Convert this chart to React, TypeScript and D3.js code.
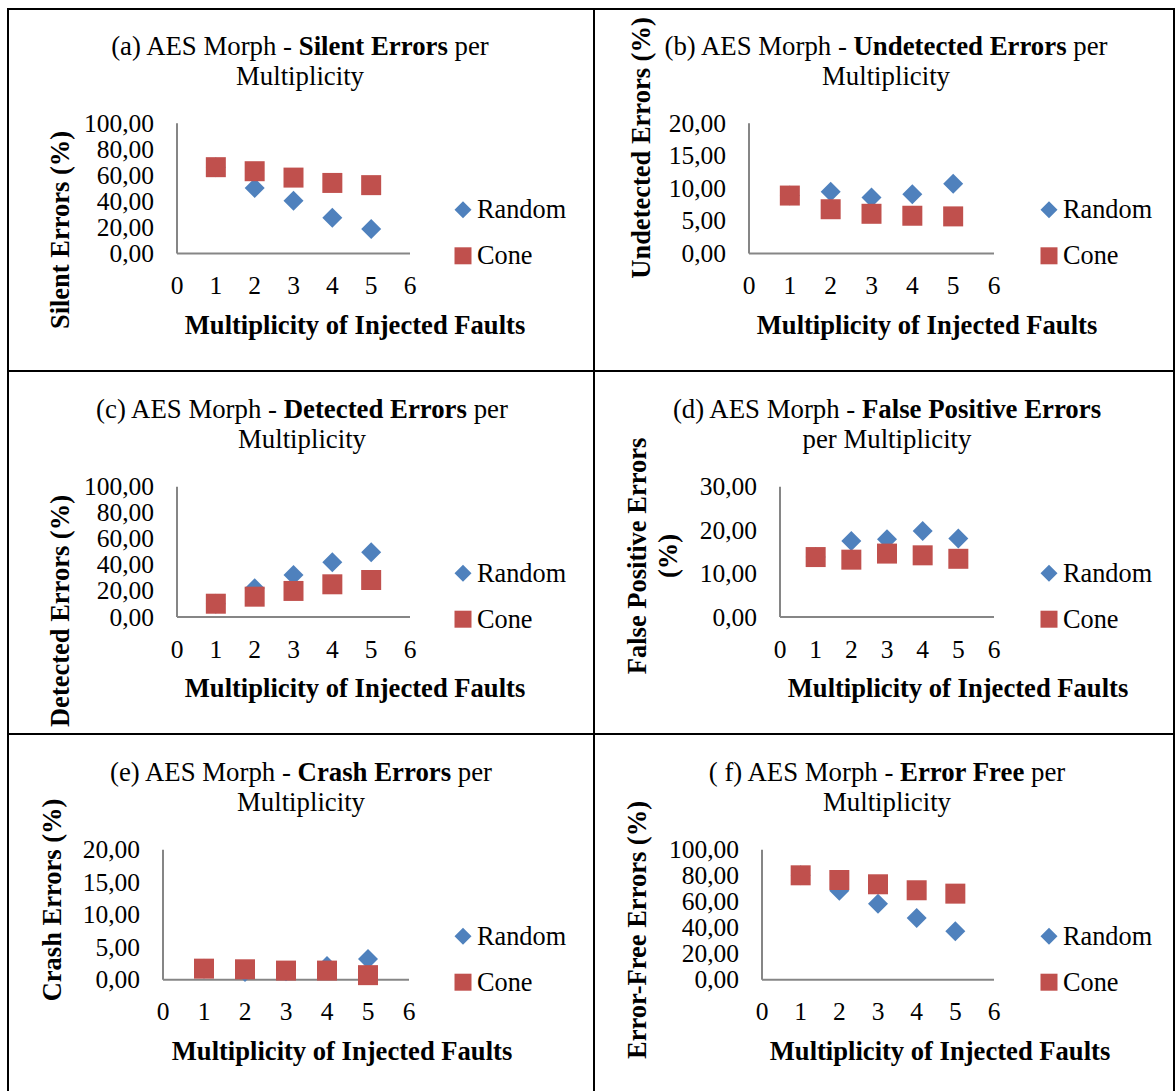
import React from "react";
import * as d3 from "d3";

const multiplicity = [1, 2, 3, 4, 5];
const xTicks = [0, 1, 2, 3, 4, 5, 6];
const seriesNames = ["Random", "Cone"];

const silentRandom = [66.3, 50.4, 40.6, 27.5, 18.8];
const silentCone = [66.3, 63.2, 58.3, 54.2, 52.5];
const undetectedRandom = [8.9, 9.5, 8.6, 9.1, 10.7];
const undetectedCone = [8.9, 6.8, 6.1, 5.8, 5.7];
const detectedRandom = [10.2, 22.0, 32.2, 42.0, 49.7];
const detectedCone = [10.2, 15.6, 20.0, 25.1, 28.4];
const falsePosRandom = [13.8, 17.5, 17.9, 19.8, 18.1];
const falsePosCone = [13.8, 13.2, 14.6, 14.2, 13.4];
const crashRandom = [1.7, 1.2, 1.3, 2.1, 3.2];
const crashCone = [1.7, 1.6, 1.4, 1.4, 0.7];
const freeRandom = [80.3, 68.5, 58.5, 47.5, 37.2];
const freeCone = [80.3, 76.7, 73.4, 68.8, 66.2];

const BLUE = "#4F81BD";
const RED = "#C0504D";
const AXIS = "#868686";
const FONT = "'Liberation Serif', 'Times New Roman', Times, serif";

type Panel = {
  label: string;
  bold: string;
  after: string;
  line2: string;
  yTitle: string[];
  random: number[];
  cone: number[];
  yMax: number;
  yStep: number;
  x0: number;
  x6: number;
  top: number;
  bottom: number;
  titleX: number;
  titleY: number;
  xTitleX: number;
  yTitleX: number;
  yTitleY: number;
  legendX: number;
};

const panels: Panel[] = [
  { label: "(a) AES Morph - ", bold: "Silent Errors", after: " per", line2: "Multiplicity", yTitle: ["Silent Errors (%)"], random: silentRandom, cone: silentCone, yMax: 100, yStep: 20, x0: 177, x6: 410, top: 123.3, bottom: 253.5, titleX: 300, titleY: 46, xTitleX: 355, yTitleX: 60, yTitleY: 230, legendX: 463 },
  { label: "(b) AES Morph - ", bold: "Undetected Errors", after: " per", line2: "Multiplicity", yTitle: ["Undetected Errors (%)"], random: undetectedRandom, cone: undetectedCone, yMax: 20, yStep: 5, x0: 749, x6: 994, top: 123.3, bottom: 253.5, titleX: 886, titleY: 46, xTitleX: 927, yTitleX: 641, yTitleY: 148, legendX: 1049 },
  { label: "(c) AES Morph - ", bold: "Detected Errors", after: " per", line2: "Multiplicity", yTitle: ["Detected Errors (%)"], random: detectedRandom, cone: detectedCone, yMax: 100, yStep: 20, x0: 177, x6: 410, top: 486.7, bottom: 617, titleX: 302, titleY: 409, xTitleX: 355, yTitleX: 60, yTitleY: 611, legendX: 463 },
  { label: "(d) AES Morph - ", bold: "False Positive Errors", after: "", line2: "per Multiplicity", yTitle: ["False Positive Errors", "(%)"], random: falsePosRandom, cone: falsePosCone, yMax: 30, yStep: 10, x0: 780, x6: 994, top: 486.7, bottom: 617, titleX: 887, titleY: 409, xTitleX: 958, yTitleX: 652, yTitleY: 556, legendX: 1049 },
  { label: "(e) AES Morph - ", bold: "Crash Errors", after: " per", line2: "Multiplicity", yTitle: ["Crash Errors (%)"], random: crashRandom, cone: crashCone, yMax: 20, yStep: 5, x0: 163, x6: 409, top: 849.7, bottom: 979.7, titleX: 301, titleY: 772, xTitleX: 342, yTitleX: 52, yTitleY: 900, legendX: 463 },
  { label: "( f) AES Morph - ", bold: "Error Free", after: " per", line2: "Multiplicity", yTitle: ["Error-Free Errors (%)"], random: freeRandom, cone: freeCone, yMax: 100, yStep: 20, x0: 762, x6: 994, top: 849.7, bottom: 979.7, titleX: 887, titleY: 772, xTitleX: 940, yTitleX: 637, yTitleY: 930, legendX: 1049 },
];

const fmt = (v: number) => d3.format(".2f")(v).replace(".", ",");
const squareSym = (size: number) => d3.symbol().type(d3.symbolSquare).size(size)() as string;

function HText({ x, y, anchor = "middle", size = 26, weight = "normal", children }: any) {
  return (
    <text
      x={x}
      y={y}
      textAnchor={anchor}
      fontSize={size}
      fontWeight={weight}
      fontFamily={FONT}
      dominantBaseline="central"
      fill="#000"
    >
      {children}
    </text>
  );
}

function PanelChart({ p }: { p: Panel }) {
  const x = d3.scaleLinear().domain([0, 6]).range([p.x0, p.x6]);
  const y = d3.scaleLinear().domain([0, p.yMax]).range([p.bottom, p.top]);
  const yTicks = d3.range(0, p.yMax + p.yStep / 2, p.yStep);
  const legY1 = p.top + 86.5;
  const legY2 = p.top + 132.5;
  const nLines = p.yTitle.length;
  return (
    <g>
      <HText x={p.titleX} y={p.titleY} size={26.8}>
        {p.label}
        <tspan fontWeight="bold">{p.bold}</tspan>
        {p.after}
      </HText>
      <HText x={p.titleX} y={p.titleY + 30} size={26.8}>{p.line2}</HText>
      {p.yTitle.map((t, i) => (
        <text
          key={i}
          transform={`translate(${p.yTitleX + (i - (nLines - 1) / 2) * 31},${p.yTitleY}) rotate(-90)`}
          textAnchor="middle"
          dominantBaseline="central"
          fontSize={26.5}
          fontWeight="bold"
          fontFamily={FONT}
        >
          {t}
        </text>
      ))}
      <line x1={p.x0} x2={p.x0} y1={p.top} y2={p.bottom} stroke={AXIS} strokeWidth={2} />
      <line x1={p.x0} x2={p.x6} y1={p.bottom} y2={p.bottom} stroke={AXIS} strokeWidth={2} />
      {yTicks.map((t) => (
        <HText key={t} x={p.x0 - 23} y={y(t)} anchor="end" size={25.5}>{fmt(t)}</HText>
      ))}
      {xTicks.map((t) => (
        <HText key={t} x={x(t)} y={p.bottom + 32} size={25.5}>{t}</HText>
      ))}
      <HText x={p.xTitleX} y={p.bottom + 71} weight="bold" size={26.6}>Multiplicity of Injected Faults</HText>
      {multiplicity.map((m, i) => (
        <path key={"r" + i} d={squareSym(200)} transform={`translate(${x(m)},${y(p.random[i])}) rotate(45)`} fill={BLUE} />
      ))}
      {multiplicity.map((m, i) => (
        <path key={"c" + i} d={squareSym(400)} transform={`translate(${x(m)},${y(p.cone[i])})`} fill={RED} />
      ))}
      <path d={squareSym(145)} transform={`translate(${p.legendX},${legY1}) rotate(45)`} fill={BLUE} />
      <HText x={p.legendX + 14} y={legY1} anchor="start" size={26.3}>{seriesNames[0]}</HText>
      <path d={squareSym(289)} transform={`translate(${p.legendX},${legY2})`} fill={RED} />
      <HText x={p.legendX + 14} y={legY2} anchor="start" size={26.3}>{seriesNames[1]}</HText>
    </g>
  );
}

export default function App() {
  return (
    <svg width={1175} height={1091} style={{ position: "absolute", left: 0, top: 0, background: "#fff" }}>
      <rect x={0} y={0} width={1175} height={1091} fill="#fff" />
      <rect x={8} y={9} width={1166} height={1090} fill="none" stroke="#000" strokeWidth={2} />
      <line x1={594} x2={594} y1={9} y2={1091} stroke="#000" strokeWidth={2} />
      <line x1={8} x2={1175} y1={371} y2={371} stroke="#000" strokeWidth={2} />
      <line x1={8} x2={1175} y1={734} y2={734} stroke="#000" strokeWidth={2} />
      {panels.map((p, i) => (
        <PanelChart key={i} p={p} />
      ))}
    </svg>
  );
}
